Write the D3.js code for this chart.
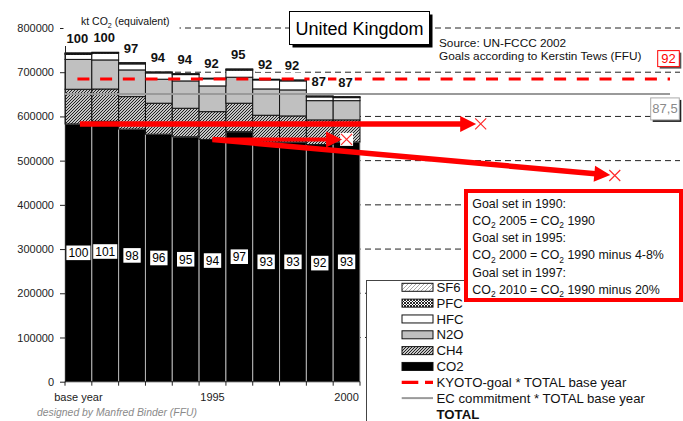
<!DOCTYPE html>
<html><head><meta charset="utf-8">
<script src="https://cdn.jsdelivr.net/npm/d3@7"></script>
<style>html,body{margin:0;padding:0;background:#fff;} svg{display:block;}</style>
</head><body>
<svg id="c" width="683" height="421"></svg>
<script>
// ---------- data ----------
const categories = ["base year","1991","1992","1993","1994","1995","1996","1997","1998","1999","2000"];
const xTickLabels = ["base year","","","","","1995","","","","","2000"];
const co2 = [583000, 589000, 571300, 559700, 553900, 548000, 565500, 542200, 542200, 536400, 542200];
const ch4 = [78500, 73000, 73500, 70200, 64600, 62800, 64400, 60500, 58900, 55700, 49900];
const n2o = [67500, 65800, 60400, 54300, 61800, 58200, 58800, 59500, 58900, 43600, 43600];
const hfc = [11400, 15200, 13600, 14200, 14300, 16000, 16000, 20400, 20300, 8400, 6800];
const pfc = [2000, 1200, 1700, 1300, 1300, 900, 1700, 900, 1300, 1300, 1300];
const sf6 = [1500, 1000, 1200, 1000, 900, 600, 1100, 700, 1000, 1000, 1000];
const totalIndex = [100, 100, 97, 94, 94, 92, 95, 92, 92, 87, 87];
const co2Index = [100, 101, 98, 96, 95, 94, 97, 93, 93, 92, 93];
const yTicks = [0,100000,200000,300000,400000,500000,600000,700000,800000];
const kyotoPct = 92;
const ecPct = 87.5;
const ecLabel = "87,5";
// goal arrows: from year/bar CO2 level to target year at factor * CO2 base year
const goalFromYear = [1990, 1995, 1995];
const goalToYear = [2005, 2000, 2010];
const goalFactor = [1.00, 0.94, 0.80];
const goalWidth = [5.5, 4, 5.5];
const goalLines = ["Goal set in 1990:", "CO_2 2005 = CO_2 1990", "Goal set in 1995:",
  "CO_2 2000 = CO_2 1990 minus 4-8%", "Goal set in 1997:", "CO_2 2010 = CO_2 1990 minus 20%"];
const seriesKeys = ["co2","ch4","n2o","hfc","pfc","sf6"];
const legendNames = ["SF6","PFC","HFC","N2O","CH4","CO2","KYOTO-goal * TOTAL base year","EC commitment * TOTAL base year","TOTAL"];

// ---------- setup ----------
const font = "'Liberation Sans', Arial, Helvetica, sans-serif";
const svg = d3.select("#c").attr("font-family", font);
const defs = svg.append("defs");
function pattern(id, size, bg, d, stroke, sw) {
  const p = defs.append("pattern").attr("id", id).attr("patternUnits","userSpaceOnUse")
    .attr("width", size).attr("height", size);
  p.append("rect").attr("width", size).attr("height", size).attr("fill", bg);
  p.append("path").attr("d", d).attr("stroke", stroke).attr("stroke-width", sw).attr("fill","none");
}
pattern("ch4", 3, "#c4c4c4", "M-1,1 L1,-1 M0,3 L3,0 M2,4 L4,2", "#222", 1);
pattern("pfc", 3, "#fff", "M-1,1 L1,-1 M0,3 L3,0 M2,4 L4,2 M-1,2 L1,4 M0,0 L3,3 M2,-1 L4,1", "#111", 0.9);
pattern("sf6", 4, "#fff", "M-1,1 L1,-1 M0,4 L4,0 M3,5 L5,3", "#aaa", 1);

const fills = {co2:"#000", ch4:"url(#ch4)", n2o:"#c0c0c0", hfc:"#fff", pfc:"url(#pfc)", sf6:"url(#sf6)"};
const strokes = {co2:"#b5b5b5", ch4:"#111", n2o:"#111", hfc:"#111", pfc:"#111", sf6:"#111"};

const x = d3.scaleBand().domain(categories).range([65, 360]).padding(0);
const y = d3.scaleLinear().domain([0, 800000]).range([381.7, 28]);
const bw = x.bandwidth();
const xYear = yr => x("2000") + bw/2 + (yr - 2000) * bw;
const gridEnd = 680, refEnd = 670;

const rows = categories.map((c,i) => ({cat:c, co2:co2[i], ch4:ch4[i], n2o:n2o[i], hfc:hfc[i], pfc:pfc[i], sf6:sf6[i]}));
const stacked = d3.stack().keys(seriesKeys)(rows);
const totals = rows.map(r => seriesKeys.reduce((s,k)=>s+r[k],0));

// ---------- gridlines ----------
svg.append("g").selectAll("line").data(yTicks.filter(t=>t>0)).join("line")
  .attr("x1", 65).attr("x2", gridEnd).attr("y1", d=>y(d)).attr("y2", d=>y(d))
  .attr("stroke","#222").attr("stroke-width",1).attr("stroke-dasharray","6,4");

// ---------- bars ----------
const barG = svg.append("g");
stacked.forEach(layer => {
  barG.append("g").selectAll("rect").data(layer).join("rect")
    .attr("x", d => x(d.data.cat)).attr("width", bw)
    .attr("y", d => y(d[1])).attr("height", d => Math.max(0, y(d[0]) - y(d[1])))
    .attr("fill", fills[layer.key]).attr("stroke", strokes[layer.key]).attr("stroke-width", 1);
});

// ---------- axes ----------
const yAxis = svg.append("g").attr("transform","translate(65,0)")
  .call(d3.axisLeft(y).tickValues(yTicks).tickSize(5).tickSizeOuter(0).tickPadding(6).tickFormat(d3.format("d")));
yAxis.select(".domain").attr("stroke","#222");
yAxis.selectAll(".tick line").attr("stroke","#222");
yAxis.selectAll("text").attr("font-size", 11).attr("fill","#222").attr("font-family", font);

svg.append("line").attr("x1",65).attr("x2",360).attr("y1",y(0)).attr("y2",y(0)).attr("stroke","#222");
const bounds = categories.map(c => x(c)).concat([x.range()[1]]);
svg.append("g").selectAll("line").data(bounds).join("line")
  .attr("x1", d=>d).attr("x2", d=>d).attr("y1", y(0)).attr("y2", y(0)+4).attr("stroke","#222");
const xAxis = svg.append("g").attr("transform",`translate(0,${y(0)})`)
  .call(d3.axisBottom(x).tickSize(0).tickPadding(11.5).tickFormat((d,i)=>xTickLabels[i]));
xAxis.select(".domain").remove();
xAxis.selectAll("text").attr("font-size", 11).attr("fill","#222").attr("font-family", font);

// ---------- reference lines ----------
const kyY = y(kyotoPct/100 * totals[0]);
const ecY = y(ecPct/100 * totals[0]);
svg.append("line").attr("x1", 65).attr("x2", refEnd).attr("y1", ecY).attr("y2", ecY)
  .attr("stroke","#9a9a9a").attr("stroke-width",2);
svg.append("line").attr("x1", xYear(1990)-1).attr("x2", refEnd).attr("y1", kyY).attr("y2", kyY)
  .attr("stroke","#ff0000").attr("stroke-width",3).attr("stroke-dasharray","12,10.7");

// ---------- goal arrows ----------
const arrowG = svg.append("g");
const baseCO2 = co2[0];
const goals = goalFromYear.map((fy,i) => {
  const fi = fy === 1990 ? 0 : categories.indexOf(String(fy));
  return {x1: xYear(fy) + (i===0?1.5:0), y1: y(co2[fi]), xe: xYear(goalToYear[i]), ye: y(goalFactor[i]*baseCO2), w: goalWidth[i]};
});
goals.forEach(g => {
  arrowG.append("rect").attr("x", g.xe-6.5).attr("y", g.ye-6.5).attr("width",13).attr("height",13).attr("fill","#fff");
});
goals.forEach(g => {
  const dx = g.xe - g.x1, dy = g.ye - g.y1, L = Math.hypot(dx,dy);
  const ux = dx/L, uy = dy/L, px = -uy, py = ux;
  const tipX = g.xe - 4.5*ux, tipY = g.ye - 4.5*uy;
  const hl = 16, hw = 8;
  const bx = tipX - hl*ux, by = tipY - hl*uy;
  arrowG.append("line").attr("x1", g.x1).attr("y1", g.y1).attr("x2", bx+1*ux).attr("y2", by+1*uy)
    .attr("stroke","#ff0000").attr("stroke-width", g.w);
  arrowG.append("path").attr("d", `M${tipX},${tipY} L${bx+hw*px},${by+hw*py} L${bx-hw*px},${by-hw*py} Z`)
    .attr("fill","#ff0000");
  arrowG.append("path").attr("d", `M${g.xe-5.5},${g.ye-5.5} L${g.xe+5.5},${g.ye+5.5} M${g.xe-5.5},${g.ye+5.5} L${g.xe+5.5},${g.ye-5.5}`)
    .attr("stroke","#ff2a2a").attr("stroke-width",1.2);
});

// ---------- y unit label ----------
svg.append("rect").attr("x",63.5).attr("y",12).attr("width",116).attr("height",34).attr("fill","#fff");
function rich(sel, str, size) {
  const parts = str.split(/(_2)/);
  let sub = false;
  parts.forEach(p => {
    if (p === "_2") {
      sel.append("tspan").attr("font-size", size*0.68).attr("dy", size*0.28).text("2");
      sub = true;
    } else if (p.length) {
      const t = sel.append("tspan").text(p);
      if (sub) { t.attr("dy", -size*0.28); sub = false; }
    }
  });
}
rich(svg.append("text").attr("x",81).attr("y",25).attr("font-size",10.5).attr("fill","#111"), "kt CO_2 (equivalent)", 10.5);

// ---------- total labels ----------
const tl = svg.append("g");
categories.forEach((c,i) => {
  const cx = x(c) + bw/2 - 1, cy = y(totals[i]) - 14.5;
  const t = tl.append("text").attr("x", cx).attr("y", cy + 4.7).attr("text-anchor","middle")
    .attr("font-size",13).attr("font-weight","bold").attr("fill","#111").text(totalIndex[i]);
  const w = t.node().getComputedTextLength();
  tl.insert("rect","text").attr("x", cx - w/2 - 2).attr("y", cy - 7).attr("width", w + 4).attr("height", 14).attr("fill","#fff");
});
// ---------- CO2 index labels ----------
const cl = svg.append("g");
categories.forEach((c,i) => {
  const cx = x(c) + bw/2, cy = y(co2[i]/2);
  const t = cl.append("text").attr("x", cx).attr("y", cy + 4.3).attr("text-anchor","middle")
    .attr("font-size",12).attr("fill","#000").text(co2Index[i]);
  const w = t.node().getComputedTextLength();
  cl.insert("rect","text").attr("x", cx - w/2 - 2).attr("y", cy - 7.3).attr("width", w + 4).attr("height", 14.6).attr("fill","#fff");
});

// ---------- title ----------
svg.append("rect").attr("x",292.5).attr("y",14.5).attr("width",140).attr("height",33).attr("fill","#000");
svg.append("rect").attr("x",289.5).attr("y",11.5).attr("width",140).attr("height",33).attr("fill","#fff").attr("stroke","#000");
svg.append("text").attr("x",359.5).attr("y",34.5).attr("text-anchor","middle").attr("font-size",18).attr("fill","#000").text("United Kingdom");
svg.append("text").attr("x",439).attr("y",47).attr("font-size",11.8).attr("fill","#111").text("Source: UN-FCCC 2002");
svg.append("text").attr("x",439).attr("y",60).attr("font-size",11.8).attr("fill","#111").text("Goals according to Kerstin Tews (FFU)");

// ---------- reference value boxes ----------
svg.append("rect").attr("x",659.7).attr("y",kyY-26.5).attr("width",21.6).attr("height",16).attr("fill","#555");
svg.append("rect").attr("x",657.7).attr("y",kyY-28.5).attr("width",21.6).attr("height",16).attr("fill","#fff").attr("stroke","#ff0000");
svg.append("text").attr("x",668.5).attr("y",kyY-16).attr("text-anchor","middle").attr("font-size",13).attr("fill","#ff0000").text(kyotoPct);
svg.append("rect").attr("x",652.7).attr("y",ecY+6).attr("width",28.6).attr("height",22).attr("fill","#222");
svg.append("rect").attr("x",650.7).attr("y",ecY+4).attr("width",28.6).attr("height",22).attr("fill","#fff").attr("stroke","#aaa");
svg.append("text").attr("x",665).attr("y",ecY+19.5).attr("text-anchor","middle").attr("font-size",13).attr("fill","#8a8a8a").text(ecLabel);

// ---------- legend ----------
svg.append("rect").attr("x",366.5).attr("y",280.5).attr("width",330).attr("height",160).attr("fill","#fff").attr("stroke","#444");
const lg = svg.append("g");
const legendFill = ["url(#sf6)","url(#pfc)","#fff","#c0c0c0","url(#ch4)","#000"];
legendNames.forEach((name,i) => {
  const cy = 287.3 + i*15.83;
  if (i < 6) {
    lg.append("rect").attr("x",402).attr("y",cy-4).attr("width",31).attr("height",8)
      .attr("fill", legendFill[i]).attr("stroke","#111").attr("stroke-width",1);
  } else if (i === 6) {
    lg.append("line").attr("x1",401.7).attr("x2",433).attr("y1",cy).attr("y2",cy)
      .attr("stroke","#ff0000").attr("stroke-width",3.2).attr("stroke-dasharray","16.6,6.7");
  } else if (i === 7) {
    lg.append("line").attr("x1",401.7).attr("x2",433).attr("y1",cy).attr("y2",cy)
      .attr("stroke","#9a9a9a").attr("stroke-width",2);
  }
  lg.append("text").attr("x",436.5).attr("y",cy+4.6).attr("font-size",13.2)
    .attr("font-weight", i===8 ? "bold" : "normal").attr("fill","#111").text(name);
});

// ---------- goal box ----------
svg.append("rect").attr("x",466).attr("y",191).attr("width",215).attr("height",109)
  .attr("fill","#fff").attr("stroke","#ff0000").attr("stroke-width",4);
goalLines.forEach((ln,i) => {
  rich(svg.append("text").attr("x",472.3).attr("y",207.5 + i*17.3).attr("font-size",12.4).attr("fill","#111"), ln, 12.4);
});

// ---------- credit ----------
svg.append("text").attr("x",37).attr("y",416).attr("font-size",10.4).attr("font-style","italic")
  .attr("fill","#8a8a8a").text("designed by Manfred Binder (FFU)");
</script></body></html>
